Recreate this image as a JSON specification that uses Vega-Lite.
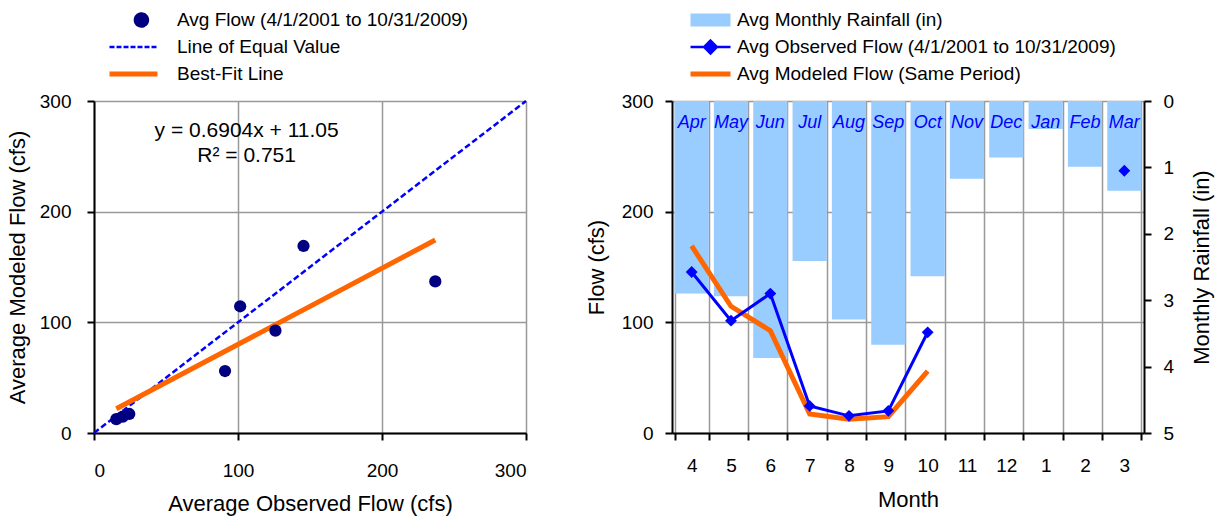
{
  "$schema": "https://vega.github.io/schema/vega-lite/v6.json",
  "background": "white",
  "padding": {"left": 6, "top": 10, "right": 2, "bottom": 2},
  "config": {
    "view": {"stroke": null},
    "font": "Liberation Sans",
    "axis": {
      "domainColor": "black", "domainWidth": 2,
      "tickColor": "black", "tickWidth": 2, "tickSize": 7,
      "labelFontSize": 19, "labelColor": "black", "labelFont": "Liberation Sans",
      "titleFontSize": 22, "titleFontWeight": "normal", "titleColor": "black", "titleFont": "Liberation Sans",
      "gridColor": "#999999", "gridWidth": 1.5
    },
    "legend": {
      "title": null, "orient": "none", "padding": 0, "clipHeight": 20, "rowPadding": 7,
      "labelFontSize": 19, "labelColor": "black", "labelFont": "Liberation Sans", "labelLimit": 600
    }
  },
  "datasets": {
    "monthly": [
      {"month": 4, "name": "Apr", "rain": 2.9, "observed": 145.5, "modeled": 169},
      {"month": 5, "name": "May", "rain": 2.94, "observed": 101.5, "modeled": 114.5},
      {"month": 6, "name": "Jun", "rain": 3.87, "observed": 126, "modeled": 92.5},
      {"month": 7, "name": "Jul", "rain": 2.41, "observed": 24.5, "modeled": 17.2},
      {"month": 8, "name": "Aug", "rain": 3.29, "observed": 15.5, "modeled": 12.5},
      {"month": 9, "name": "Sep", "rain": 3.67, "observed": 20, "modeled": 14.8},
      {"month": 10, "name": "Oct", "rain": 2.64, "observed": 91, "modeled": 56},
      {"month": 11, "name": "Nov", "rain": 1.17, "observed": null, "modeled": null},
      {"month": 12, "name": "Dec", "rain": 0.85, "observed": null, "modeled": null},
      {"month": 1, "name": "Jan", "rain": 0.42, "observed": null, "modeled": null},
      {"month": 2, "name": "Feb", "rain": 0.99, "observed": null, "modeled": null},
      {"month": 3, "name": "Mar", "rain": 1.35, "observed": 237, "modeled": 137}
    ],
    "equal": [{"v": 0}, {"v": 300}],
    "equation": [{"line1": "y = 0.6904x + 11.05", "line2": "R² = 0.751"}]
  },
  "spacing": 54,
  "resolve": {"scale": {"color": "independent"}, "legend": {"color": "independent"}},
  "hconcat": [
    {
      "width": 432,
      "height": 332,
      "layer": [
        {
          "data": {"name": "equal"},
          "mark": {"type": "line", "strokeWidth": 2.5, "strokeDash": [6, 3]},
          "encoding": {
            "x": {"field": "v", "type": "quantitative",
              "scale": {"domain": [0, 300], "nice": false},
              "axis": {"values": [0, 100, 200, 300], "grid": true, "labelPadding": 21, "titlePadding": 13, "title": "Average Observed Flow (cfs)"}},
            "y": {"field": "v", "type": "quantitative",
              "scale": {"domain": [0, 300], "nice": false},
              "axis": {"values": [0, 100, 200, 300], "grid": true, "labelPadding": 16, "titlePadding": 10, "title": "Average Modeled Flow (cfs)"}},
            "color": {
              "datum": "Line of Equal Value", "type": "nominal",
              "scale": {"domain": ["Avg Flow (4/1/2001 to 10/31/2009)", "Line of Equal Value", "Best-Fit Line"], "range": ["#000080", "#0000FF", "#FF6600"]},
              "legend": {
                "legendX": 14, "legendY": -91, "symbolSize": 2304, "labelOffset": 18,
                "encode": {"symbols": {"update": {
                  "shape": {"signal": "(datum.value === 'Avg Flow (4/1/2001 to 10/31/2009)' ? 'M0.06,0A0.27,0.27 0 1,0 0.6,0A0.27,0.27 0 1,0 0.06,0Z' : 'stroke')"},
                  "size": {"value": 2304},
                  "fill": {"signal": "(datum.value === 'Avg Flow (4/1/2001 to 10/31/2009)' ? '#000080' : 'transparent')"},
                  "stroke": {"signal": "(datum.value === 'Avg Flow (4/1/2001 to 10/31/2009)' ? 'transparent' : (datum.value === 'Line of Equal Value' ? '#0000FF' : '#FF6600'))"},
                  "strokeDash": {"signal": "(datum.value === 'Line of Equal Value' ? [5, 2] : [1, 0])"},
                  "strokeWidth": {"signal": "(datum.value === 'Best-Fit Line' ? 5 : 2.5)"},
                  "opacity": {"value": 1}
                }}}
              }
            }
          }
        },
        {
          "data": {"name": "monthly"},
          "transform": [
            {"filter": "isValid(datum.observed)"},
            {"regression": "modeled", "on": "observed"}
          ],
          "mark": {"type": "line", "color": "#FF6600", "strokeWidth": 5},
          "encoding": {
            "x": {"field": "observed", "type": "quantitative"},
            "y": {"field": "modeled", "type": "quantitative"}
          }
        },
        {
          "data": {"name": "monthly"},
          "transform": [{"filter": "isValid(datum.observed)"}],
          "mark": {"type": "circle", "size": 150, "opacity": 1, "color": "#000080"},
          "encoding": {
            "x": {"field": "observed", "type": "quantitative"},
            "y": {"field": "modeled", "type": "quantitative"}
          }
        },
        {
          "data": {"name": "equation"},
          "mark": {"type": "text", "fontSize": 21, "align": "center", "baseline": "middle", "color": "black"},
          "encoding": {
            "x": {"datum": 106, "type": "quantitative"},
            "y": {"datum": 273, "type": "quantitative"},
            "text": {"field": "line1"}
          }
        },
        {
          "data": {"name": "equation"},
          "mark": {"type": "text", "fontSize": 21, "align": "center", "baseline": "middle", "color": "black"},
          "encoding": {
            "x": {"datum": 106, "type": "quantitative"},
            "y": {"datum": 250, "type": "quantitative"},
            "text": {"field": "line2"}
          }
        }
      ]
    },
    {
      "width": 472,
      "height": 332,
      "data": {"name": "monthly"},
      "resolve": {"scale": {"y": "independent"}},
      "layer": [
        {
          "layer": [
            {
              "mark": {"type": "bar"},
              "encoding": {
                "x": {"field": "month", "type": "ordinal",
                  "scale": {"domain": [4, 5, 6, 7, 8, 9, 10, 11, 12, 1, 2, 3], "paddingInner": 0.13, "paddingOuter": 0.065},
                  "axis": {"labelAngle": 0, "tickBand": "extent", "grid": true, "labelPadding": 16, "titlePadding": 14, "title": "Month"}},
                "y": {"field": "rain", "type": "quantitative",
                  "scale": {"domain": [0, 5], "reverse": true, "nice": false},
                  "axis": {"orient": "right", "values": [0, 1, 2, 3, 4, 5], "format": "d", "grid": false, "labelPadding": 12, "titlePadding": 18, "titleAngle": 270, "titleBaseline": "top", "title": "Monthly Rainfall (in)"}},
                "color": {
                  "datum": "Avg Monthly Rainfall (in)", "type": "nominal",
                  "scale": {"domain": ["Avg Monthly Rainfall (in)", "Avg Observed Flow (4/1/2001 to 10/31/2009)", "Avg Modeled Flow (Same Period)"], "range": ["#99CCFF", "#0000FF", "#FF6600"]},
                  "legend": {
                    "legendX": 17, "legendY": -91, "symbolSize": 1600, "labelOffset": 5,
                    "encode": {"symbols": {"update": {
                      "shape": {"signal": "(datum.value === 'Avg Monthly Rainfall (in)' ? 'M-1,-0.32H1V0.32H-1Z' : (datum.value === 'Avg Modeled Flow (Same Period)' ? 'stroke' : 'M-1,0H1M0,-0.32L0.32,0L0,0.32L-0.32,0Z'))"},
                      "size": {"value": 1600},
                      "fill": {"signal": "(datum.value === 'Avg Monthly Rainfall (in)' ? '#99CCFF' : (datum.value === 'Avg Modeled Flow (Same Period)' ? 'transparent' : '#0000FF'))"},
                      "stroke": {"signal": "(datum.value === 'Avg Monthly Rainfall (in)' ? 'transparent' : (datum.value === 'Avg Modeled Flow (Same Period)' ? '#FF6600' : '#0000FF'))"},
                      "strokeWidth": {"signal": "(datum.value === 'Avg Modeled Flow (Same Period)' ? 5 : 2.5)"},
                      "opacity": {"value": 1}
                    }}}
                  }
                }
              }
            },
            {
              "mark": {"type": "text", "fontSize": 18, "fontStyle": "italic", "color": "#0000FF", "align": "center", "baseline": "middle"},
              "encoding": {
                "x": {"field": "month", "type": "ordinal"},
                "y": {"datum": 0.33, "type": "quantitative"},
                "text": {"field": "name"}
              }
            }
          ]
        },
        {
          "layer": [
            {
              "transform": [{"filter": "datum.month >= 4 && datum.month <= 10"}],
              "mark": {"type": "line", "color": "#FF6600", "strokeWidth": 5},
              "encoding": {
                "x": {"field": "month", "type": "ordinal"},
                "y": {"field": "modeled", "type": "quantitative",
                  "scale": {"domain": [0, 300], "nice": false},
                  "axis": {"orient": "left", "values": [0, 100, 200, 300], "grid": true, "labelPadding": 12, "titlePadding": 13, "title": "Flow (cfs)"}}
              }
            },
            {
              "transform": [{"filter": "datum.month >= 4 && datum.month <= 10"}],
              "mark": {"type": "line", "color": "#0000FF", "strokeWidth": 3},
              "encoding": {
                "x": {"field": "month", "type": "ordinal"},
                "y": {"field": "observed", "type": "quantitative"}
              }
            },
            {
              "transform": [{"filter": "isValid(datum.observed)"}],
              "mark": {"type": "point", "shape": "diamond", "filled": true, "size": 140, "color": "#0000FF", "opacity": 1},
              "encoding": {
                "x": {"field": "month", "type": "ordinal"},
                "y": {"field": "observed", "type": "quantitative"}
              }
            }
          ]
        }
      ]
    }
  ]
}
